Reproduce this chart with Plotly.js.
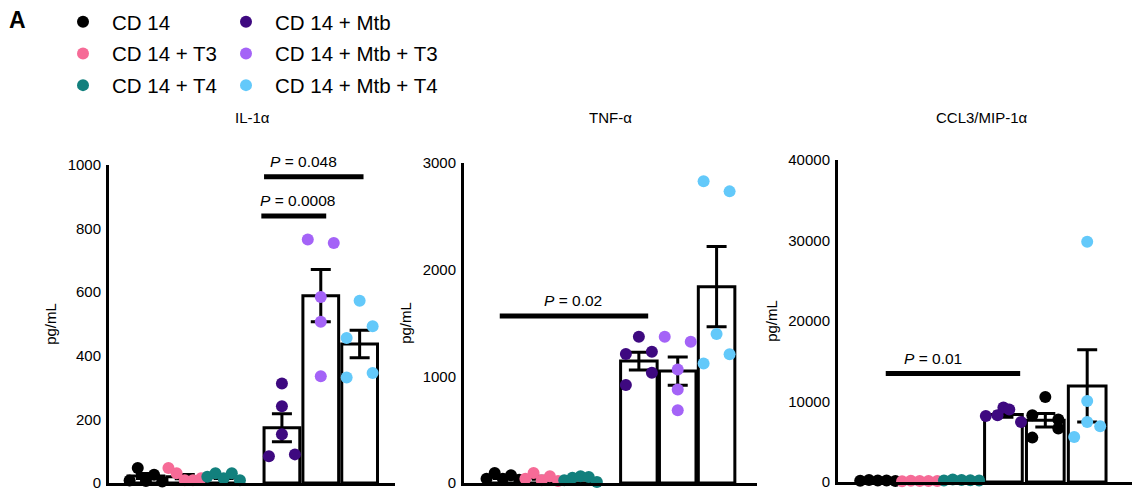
<!DOCTYPE html>
<html><head><meta charset="utf-8">
<script src="https://cdn.plot.ly/plotly-3.0.1.min.js"></script>
<style>html,body{margin:0;padding:0;background:#fff}#chart{width:1133px;height:492px}</style>
</head><body><div id="chart"></div>
<script>
// ---------- data ----------
const groups = ['CD 14', 'CD 14 + T3', 'CD 14 + T4', 'CD 14 + Mtb', 'CD 14 + Mtb + T3', 'CD 14 + Mtb + T4'];
const groupColors = ['#000000', '#f66b97', '#12807d', '#3e0980', '#a463f7', '#63c9fa'];
const panelTitles = ['IL-1α', 'TNF-α', 'CCL3/MIP-1α'];
const yTitle = 'pg/mL';

const il1aPoints = [[8, 47, 6, 26, 5], [47, 31, 9, 9, 15], [20, 31, 15, 31, 9],
                    [313, 241, 153, 84, 90], [766, 755, 585, 507, 336], [573, 456, 493, 332, 346]];
const il1aMeans = [22, 20, 18, 174, 589, 437];
const il1aSem = [8, 7, 4, 44, 82, 43];

const tnfPoints = [[40, 94, 40, 72, 31], [40, 94, 25, 63, 19], [25, 50, 63, 56, 9],
                   [1372, 918, 1033, 1209, 1231], [1372, 1325, 1065, 877, 683], [2828, 2734, 1397, 1121, 1206]];
const tnfMeans = [55, 50, 40, 1143, 1049, 1841];
const tnfSem = [12, 14, 10, 83, 133, 376];

const ccl3Points = [[150, 250, 200, 180, 120], [100, 150, 120, 130, 110], [200, 300, 250, 220, 180],
                    [8207, 9244, 8290, 8995, 7461], [8290, 10570, 7751, 5513, 6632], [29845, 10073, 7461, 5596, 6922]];
const ccl3Means = [180, 130, 230, 8373, 7668, 11938];
const ccl3Sem = [20, 10, 20, 320, 830, 4500];

const il1aTicks = [0, 200, 400, 600, 800, 1000];
const tnfTicks = [0, 1000, 2000, 3000];
const ccl3Ticks = [0, 10000, 20000, 30000, 40000];

const il1aP = ['P = 0.048', 'P = 0.0008'];
const tnfP = ['P = 0.02'];
const ccl3P = ['P = 0.01'];

// ---------- layout config ----------
const W = 1133, H = 492;
const panels = [
  { points: il1aPoints, means: il1aMeans, sem: il1aSem, ticks: il1aTicks, title: panelTitles[0],
    px: [109, 395], py: [483, 165], xr: [-0.95, 6.41], xpos: [0, 1, 2, 3.5, 4.5, 5.5], bw: 0.92, titleX: 252,
    brackets: [{ x0: 3.04, x1: 5.6, y: 963, tx: 4.05, p: il1aP[0] },
               { x0: 2.97, x1: 4.64, y: 840, tx: 3.9, p: il1aP[1] }] },
  { points: tnfPoints, means: tnfMeans, sem: tnfSem, ticks: tnfTicks, title: panelTitles[1],
    px: [464, 757], py: [483, 163], xr: [-1.0, 6.54], xpos: [0, 1, 2, 3.5, 4.5, 5.5], bw: 0.94, titleX: 610,
    brackets: [{ x0: -0.08, x1: 3.74, y: 1566, tx: 1.8, p: tnfP[0] }] },
  { points: ccl3Points, means: ccl3Means, sem: ccl3Sem, ticks: ccl3Ticks, title: panelTitles[2],
    px: [838, 1132], py: [482, 160], xr: [-0.95, 6.07], xpos: [0, 1, 2, 3, 4, 5], bw: 0.9, titleX: 982,
    pointColorOverride: { 4: '#000000' },
    brackets: [{ x0: 0.19, x1: 3.4, y: 13472, tx: 1.33, p: ccl3P[0] }] }
];

// simple beeswarm: rows of points closer than d px are spread symmetrically
function swarm(vals, uy, ux) {
  const d = 13.5, sDef = 26, maxHalf = 0.42 * ux;
  const idx = vals.map((v, i) => i).sort((a, b) => vals[a] - vals[b]);
  const off = new Array(vals.length).fill(0);
  let i = 0;
  while (i < idx.length) {
    const start = vals[idx[i]];
    const row = [idx[i]];
    let j = i + 1;
    while (j < idx.length && (vals[idx[j]] - start) * uy < d) { row.push(idx[j]); j++; }
    row.sort((a, b) => a - b);
    const n = row.length;
    const s = n > 1 ? Math.min(sDef, 2 * maxHalf / (n - 1)) : 0;
    row.forEach((k, m) => { off[k] = (m - (n - 1) / 2) * s / ux; });
    i = j;
  }
  return off;
}

const font = 'Liberation Sans, Arial, Helvetica, sans-serif';
const traces = [];
const legendCommon = { xanchor: 'left', yanchor: 'top', font: { size: 20.5, family: font },
  itemwidth: 48, tracegroupgap: 2, bgcolor: 'rgba(0,0,0,0)', borderwidth: 0 };
const layout = {
  width: W, height: H, margin: { l: 0, r: 0, t: 0, b: 0 },
  paper_bgcolor: '#ffffff', plot_bgcolor: 'rgba(0,0,0,0)',
  font: { family: font, color: '#000000' },
  barmode: 'overlay', showlegend: true, hovermode: false,
  legend: Object.assign({ x: 54 / W, y: 1 - 2 / H }, legendCommon),
  legend2: Object.assign({ x: 217 / W, y: 1 - 2 / H }, legendCommon),
  shapes: [], annotations: []
};

layout.annotations.push({ text: '<b>A</b>', xref: 'paper', yref: 'paper', x: 17 / W, y: 1 - 20 / H,
  xanchor: 'center', yanchor: 'middle', showarrow: false, font: { size: 23, family: font } });

panels.forEach((P, pi) => {
  const sfx = pi === 0 ? '' : String(pi + 1);
  const xa = 'x' + sfx, ya = 'y' + sfx;
  const ymax = P.ticks[P.ticks.length - 1];
  const ux = (P.px[1] - P.px[0]) / (P.xr[1] - P.xr[0]);
  const uy = (P.py[0] - P.py[1]) / ymax;

  layout['xaxis' + sfx] = {
    domain: [P.px[0] / W, P.px[1] / W], range: P.xr, anchor: ya,
    showline: true, linewidth: 3, linecolor: '#000', ticks: '', showticklabels: false,
    showgrid: false, zeroline: false, fixedrange: true
  };
  layout['yaxis' + sfx] = {
    domain: [1 - P.py[0] / H, 1 - P.py[1] / H], range: [0, ymax], anchor: xa,
    tickmode: 'array', tickvals: P.ticks, ticktext: P.ticks.map(String),
    showline: true, linewidth: 3, linecolor: '#000', ticks: '', ticklabelstandoff: 2,
    tickfont: { size: 15, family: font }, showgrid: false, zeroline: false, fixedrange: true,
    title: { text: yTitle, font: { size: 15, family: font }, standoff: 8 }
  };

  traces.push({
    type: 'bar', x: P.xpos, y: P.means, width: P.bw, xaxis: xa, yaxis: ya,
    marker: { color: '#ffffff', line: { color: '#000000', width: 3 } },
    error_y: { type: 'data', array: P.sem, visible: true, color: '#000000', thickness: 3, width: 10 },
    showlegend: false, hoverinfo: 'skip'
  });

  P.points.forEach((vals, g) => {
    const off = swarm(vals, uy, ux);
    const col = (P.pointColorOverride && P.pointColorOverride[g]) || groupColors[g];
    traces.push({
      type: 'scatter', mode: 'markers', name: groups[g], legendgroup: groups[g],
      legend: g < 3 ? 'legend' : 'legend2', showlegend: pi === 0,
      x: vals.map((v, k) => P.xpos[g] + off[k]), y: vals, xaxis: xa, yaxis: ya,
      marker: { size: 12, color: col, line: { width: 0 } }, cliponaxis: false, hoverinfo: 'skip'
    });
  });

  layout.annotations.push({ text: P.title, xref: 'paper', yref: 'paper', x: P.titleX / W, y: 1 - 117 / H,
    xanchor: 'center', yanchor: 'middle', showarrow: false, font: { size: 15, family: font } });

  P.brackets.forEach(b => {
    layout.shapes.push({ type: 'line', xref: xa, yref: ya, x0: b.x0, x1: b.x1, y0: b.y, y1: b.y,
      line: { color: '#000', width: 5 } });
    layout.annotations.push({ text: b.p.replace('P', '<i>P</i>'), xref: xa, yref: ya, x: b.tx, y: b.y,
      yshift: 15, xanchor: 'center', yanchor: 'middle', showarrow: false, font: { size: 15.5, family: font } });
  });
});

Plotly.newPlot('chart', traces, layout, { displayModeBar: false, staticPlot: true });
</script></body></html>
